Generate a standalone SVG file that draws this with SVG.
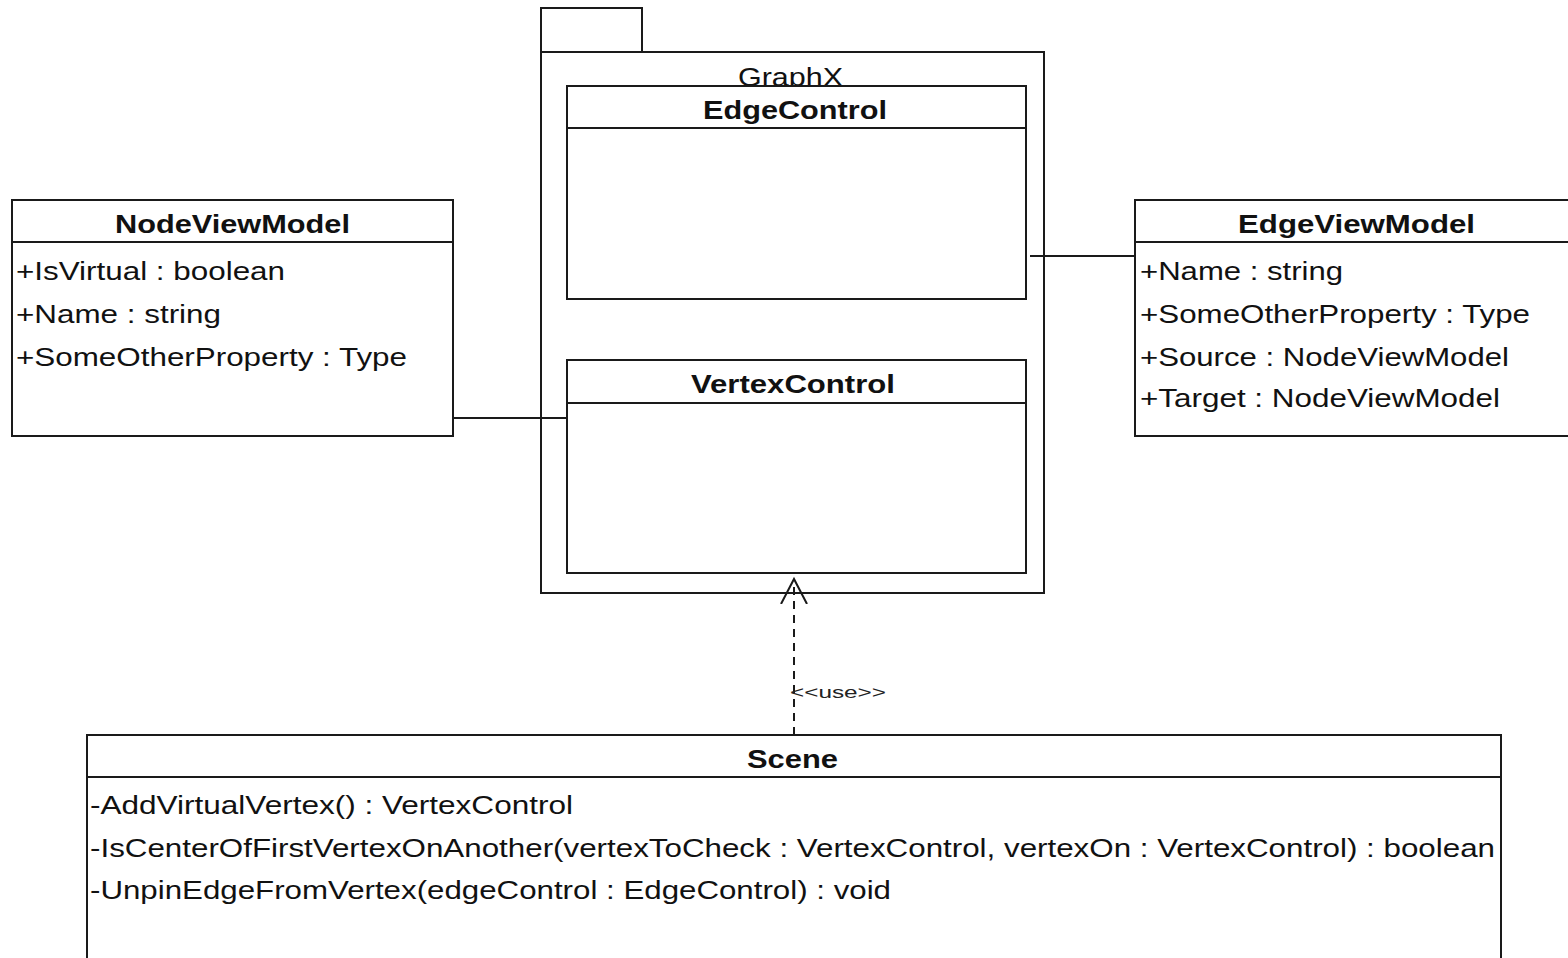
<svg xmlns="http://www.w3.org/2000/svg" width="1568" height="958" viewBox="0 0 1568 958">
<style>
.box{fill:#fff;stroke:#1a1a1a;stroke-width:2}
.ln{stroke:#1a1a1a;stroke-width:2;fill:none}
.t{font-family:"Liberation Sans",Arial,sans-serif;font-size:26px;fill:#111}
.b{font-family:"Liberation Sans",Arial,sans-serif;font-size:26px;font-weight:bold;fill:#111}
.s{font-family:"Liberation Sans",Arial,sans-serif;font-size:17px;fill:#222}
</style>
<defs>
<marker id="open" markerWidth="30" markerHeight="30" refX="25" refY="14" orient="auto" markerUnits="userSpaceOnUse" viewBox="0 0 30 30">
<path d="M0,1 L25,14 L0,27" fill="none" stroke="#1a1a1a" stroke-width="2"/>
</marker>
</defs>
<rect width="1568" height="958" fill="#fff"/>
<g id="package-graphx">
<rect class="box" x="541" y="8" width="101" height="44"/>
<rect class="box" x="541" y="52" width="503" height="541"/>
<text class="t" x="738" y="86" textLength="105" lengthAdjust="spacingAndGlyphs">GraphX</text>
</g>
<g id="edgecontrol">
<rect class="box" x="567" y="86" width="459" height="213"/>
<line class="ln" x1="567" y1="128" x2="1026" y2="128"/>
<text class="b" x="703" y="119" textLength="184" lengthAdjust="spacingAndGlyphs">EdgeControl</text>
</g>
<g id="vertexcontrol">
<rect class="box" x="567" y="360" width="459" height="213"/>
<line class="ln" x1="567" y1="403" x2="1026" y2="403"/>
<text class="b" x="691" y="393" textLength="204" lengthAdjust="spacingAndGlyphs">VertexControl</text>
</g>
<g id="nodeviewmodel">
<rect class="box" x="12" y="200" width="441" height="236"/>
<line class="ln" x1="12" y1="242" x2="453" y2="242"/>
<text class="b" x="115" y="233" textLength="235" lengthAdjust="spacingAndGlyphs">NodeViewModel</text>
<text class="t" x="16" y="280" textLength="269" lengthAdjust="spacingAndGlyphs">+IsVirtual : boolean</text>
<text class="t" x="16" y="323" textLength="205" lengthAdjust="spacingAndGlyphs">+Name : string</text>
<text class="t" x="16" y="366" textLength="391" lengthAdjust="spacingAndGlyphs">+SomeOtherProperty : Type</text>
</g>
<g id="edgeviewmodel">
<rect class="box" x="1135" y="200" width="445" height="236"/>
<line class="ln" x1="1135" y1="242" x2="1580" y2="242"/>
<text class="b" x="1238" y="233" textLength="237" lengthAdjust="spacingAndGlyphs">EdgeViewModel</text>
<text class="t" x="1140" y="280" textLength="203" lengthAdjust="spacingAndGlyphs">+Name : string</text>
<text class="t" x="1140" y="323" textLength="390" lengthAdjust="spacingAndGlyphs">+SomeOtherProperty : Type</text>
<text class="t" x="1140" y="366" textLength="369" lengthAdjust="spacingAndGlyphs">+Source : NodeViewModel</text>
<text class="t" x="1140" y="407" textLength="360" lengthAdjust="spacingAndGlyphs">+Target : NodeViewModel</text>
</g>
<g id="scene">
<rect class="box" x="87" y="735" width="1414" height="240"/>
<line class="ln" x1="87" y1="777" x2="1501" y2="777"/>
<text class="b" x="747" y="768" textLength="91" lengthAdjust="spacingAndGlyphs">Scene</text>
<text class="t" x="90" y="814" textLength="483" lengthAdjust="spacingAndGlyphs">-AddVirtualVertex() : VertexControl</text>
<text class="t" x="90" y="857" textLength="1405" lengthAdjust="spacingAndGlyphs">-IsCenterOfFirstVertexOnAnother(vertexToCheck : VertexControl, vertexOn : VertexControl) : boolean</text>
<text class="t" x="90" y="899" textLength="801" lengthAdjust="spacingAndGlyphs">-UnpinEdgeFromVertex(edgeControl : EdgeControl) : void</text>
</g>
<g id="connectors">
<line class="ln" x1="453" y1="418" x2="567" y2="418"/>
<line class="ln" x1="1030" y1="256" x2="1135" y2="256"/>
<line class="ln" x1="794" y1="735" x2="794" y2="579" stroke-dasharray="8,6" marker-end="url(#open)"/>
<text class="s" x="790" y="698" textLength="96" lengthAdjust="spacingAndGlyphs">&lt;&lt;use&gt;&gt;</text>
</g>
</svg>
